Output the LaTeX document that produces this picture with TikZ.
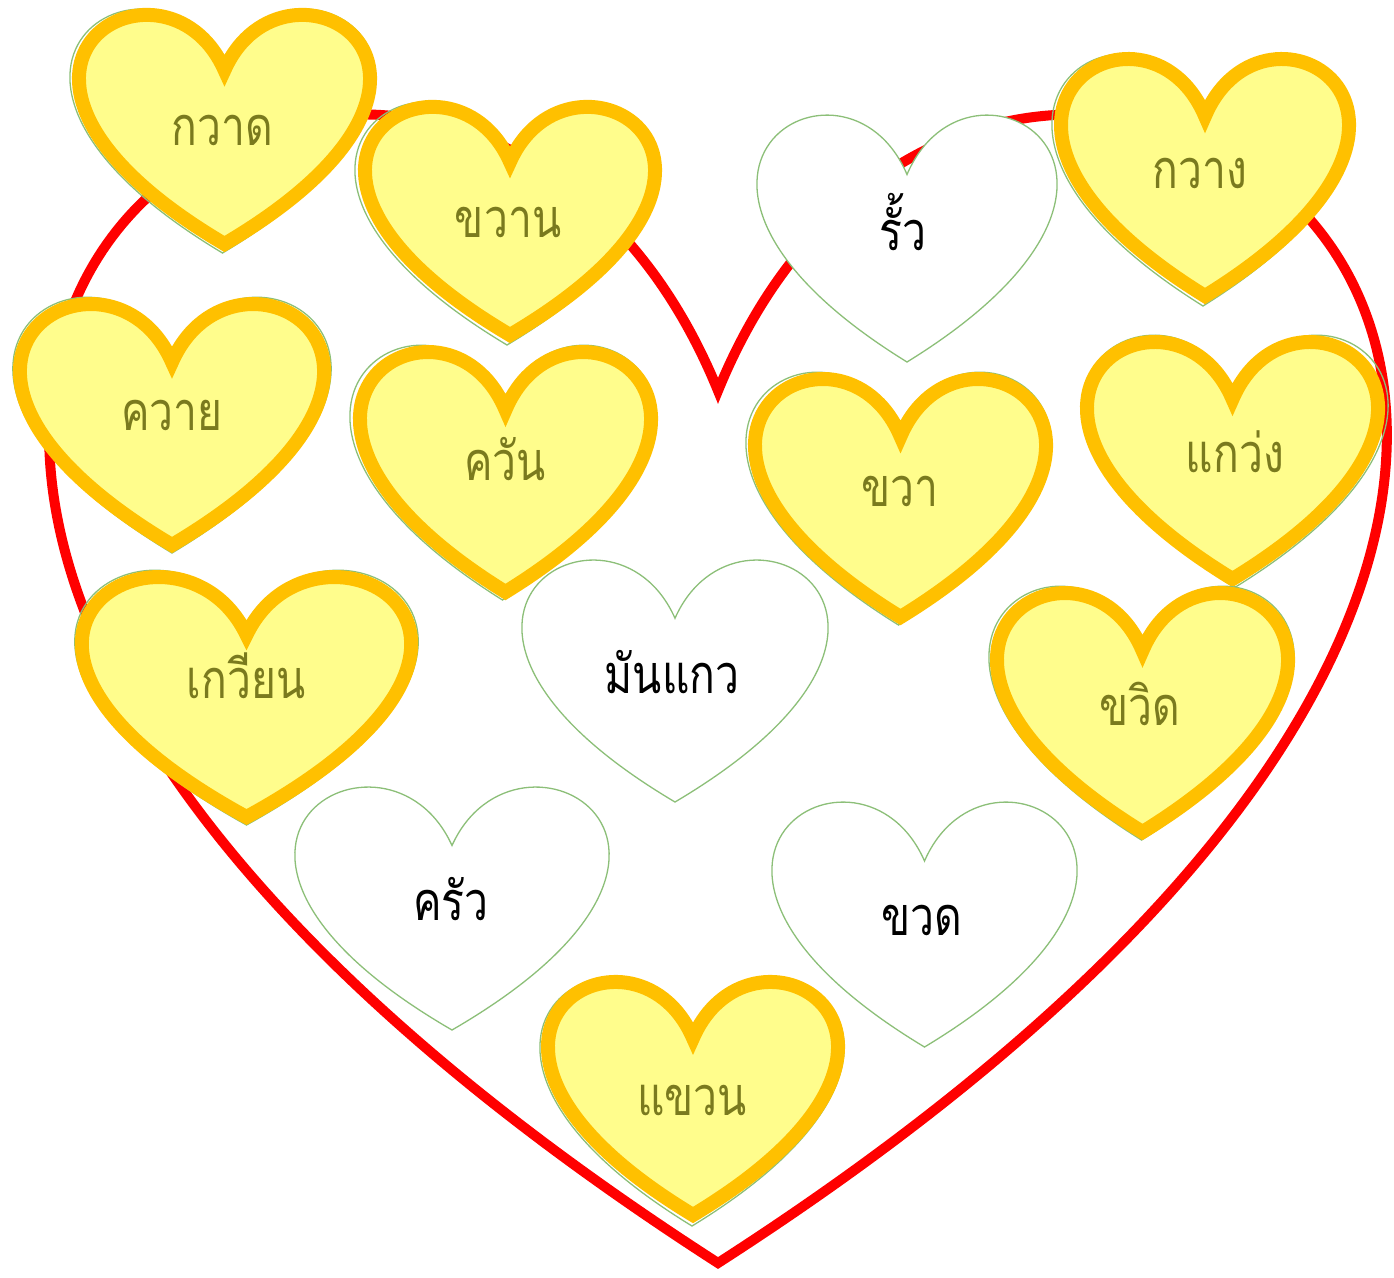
\documentclass[tikz,border=0pt]{standalone}
\usepackage{fontspec}
\newfontfamily\thaifont[Script=Thai,FakeStretch=0.79]{Loma}
\definecolor{hred}{HTML}{FF0000}
\definecolor{hgold}{HTML}{FFC000}
\definecolor{hfill}{HTML}{FFFD8C}
\definecolor{hgreen}{HTML}{8CBF78}
\definecolor{holive}{HTML}{7A7A1E}
\newcommand\heartpath[4]{({(#1)},{(#2)+(#4)/4}) .. controls ({(#1)+(#3)/48*10},{(#2)-(#4)/3}) and ({(#1)+(#3)/48*49},{(#2)+(#4)/4}) .. ({(#1)},{(#2)+(#4)}) .. controls ({(#1)-(#3)/48*49},{(#2)+(#4)/4}) and ({(#1)-(#3)/48*10},{(#2)-(#4)/3}) .. cycle}
\newcommand\yheart[6]{%
  \draw[greenedge] \heartpath{(#1)+(#5)}{(#2)+(#6)}{#3}{#4};
  \filldraw[yellowheart] \heartpath{#1}{(#2)+7}{(#3)-14}{(#4)-15};
}
\begin{document}
\begin{tikzpicture}[x=1pt,y=-1pt,
  bigheart/.style={draw=hred,line width=10pt,miter limit=10},
  whiteheart/.style={draw=hgreen,line width=1.3pt,fill=white},
  greenedge/.style={draw=hgreen,line width=1.3pt},
  yellowheart/.style={draw=hgold,fill=hfill,line width=14pt,miter limit=10},
  ytext/.style={font=\thaifont\fontsize{54}{60}\selectfont,text=holive,anchor=base,inner sep=0pt},
  wtext/.style={font=\thaifont\fontsize{54}{60}\selectfont,text=black,anchor=base,inner sep=0pt}]
\useasboundingbox (0,0) rectangle (1394,1277);
% big red heart
\draw[bigheart] \heartpath{718}{100}{1328}{1163};
% white hearts
\filldraw[whiteheart] \heartpath{907}{112}{298}{250};
\filldraw[whiteheart] \heartpath{675}{557}{304}{245};
\filldraw[whiteheart] \heartpath{452}{784}{312}{246};
\filldraw[whiteheart] \heartpath{924.5}{799}{303}{248};
% yellow hearts
\yheart{224.5}{5}{303}{247}{-2}{1}
\yheart{510}{97}{302}{246}{-3}{2}
\yheart{1205}{49}{300}{255}{-2}{2}
\yheart{172}{294}{316}{259}{0}{0}
\yheart{505.5}{342}{303}{258}{-3}{0}
\yheart{900.5}{369}{303}{256}{-2}{0}
\yheart{1232.5}{332}{303}{255}{3}{0}
\yheart{246.5}{567}{341}{258}{0}{0}
\yheart{1142.5}{583}{303}{257}{-1}{0}
\yheart{693}{972}{302}{251}{-1}{3}
% texts
\node[ytext] (kwad) at (222,145) {กวาด};
\node[ytext] (khwan) at (508,237) {ขวาน};
\node[ytext] (kwang) at (1200,188) {กวาง};
\node[ytext] (khwai) at (172,430) {ควาย};
\node[ytext] (khwan2) at (505,480) {ควัน};
\node[ytext] (khwa) at (900,506) {ขวา};
\node[ytext] (kwaeng) at (1235,472) {แกว่ง};
\node[ytext] (kwian) at (246,698) {เกวียน};
\node[ytext] (khwid) at (1140,725) {ขวิด};
\node[ytext] (khwaen) at (692,1115) {แขวน};
\node[wtext] (rua) at (903,250) {รั้ว};
\node[wtext] (mankaeo) at (672,693) {มันแกว};
\node[wtext] (khrua) at (451,920) {ครัว};
\node[wtext] (khwad) at (922,935) {ขวด};
\end{tikzpicture}
\end{document}
